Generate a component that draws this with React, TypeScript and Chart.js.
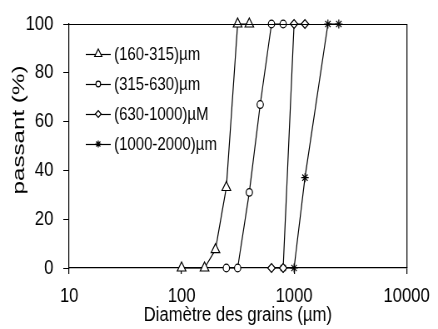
import React, { useEffect, useRef } from 'react';
import { Chart, registerables } from 'chart.js';
import { drawPoint } from 'chart.js/helpers';

Chart.register(...registerables);

// The reference is horizontally compressed; draw on a wider canvas and squeeze it with CSS.
const K = 1.2;
const W = 438;
const H = 329;
const LW = Math.round(W * K);

const FONT = "'Liberation Sans', Arial, sans-serif";

const seriesLabels = ['(160-315)µm', '(315-630)µm', '(630-1000)µM', '(1000-2000)µm'];
const s1X = [100, 160, 200, 250, 315, 400];
const s1Y = [0, 0, 7.5, 33, 100, 100];
const s2X = [250, 315, 400, 500, 630, 800];
const s2Y = [0, 0, 31, 67, 100, 100];
const s3X = [630, 800, 1000, 1250];
const s3Y = [0, 0, 100, 100];
const s4X = [800, 1000, 1250, 2000, 2500];
const s4Y = [0, 0, 37, 100, 100];
const xTicks = [10, 100, 1000, 10000];
const yTicks = [0, 20, 40, 60, 80, 100];
const xTitle = 'Diamètre des grains (µm)';
const yTitle = 'passant (%)';

const pointStyles = ['triangle', 'circle', 'rectRot', 'star'];
const pointRadii = [6, 3.8, 4.5, 4.5];

const allX = [s1X, s2X, s3X, s4X];
const allY = [s1Y, s2Y, s3Y, s4Y];

const framePlugin = {
  id: 'frame',
  afterDraw(chart: any) {
    const { ctx, chartArea } = chart;
    const { left, right, top, bottom } = chartArea;
    ctx.save();
    ctx.strokeStyle = '#000';
    ctx.lineWidth = 1.2;
    ctx.beginPath();
    ctx.moveTo(left, top + 0.5);
    ctx.lineTo(right + 0.5, top + 0.5);
    ctx.lineTo(right + 0.5, bottom);
    ctx.stroke();

    // y title
    ctx.fillStyle = '#000';
    ctx.font = `21px ${FONT}`;
    ctx.textAlign = 'center';
    ctx.textBaseline = 'alphabetic';
    ctx.translate(left - 54, (top + bottom) / 2 - 16);
    ctx.rotate(-Math.PI / 2);
    ctx.scale(1.15, 1);
    ctx.fillText(yTitle, 0, 0);
    ctx.restore();

    // legend
    ctx.save();
    const x0 = left + 20;
    const x1 = left + 50;
    ctx.font = `18px ${FONT}`;
    ctx.textAlign = 'left';
    ctx.textBaseline = 'middle';
    seriesLabels.forEach((label, i) => {
      const y = top + 30 + i * 30;
      ctx.strokeStyle = '#000';
      ctx.lineWidth = 1.2;
      ctx.beginPath();
      ctx.moveTo(x0, y + 0.5);
      ctx.lineTo(x1, y + 0.5);
      ctx.stroke();
      ctx.fillStyle = pointStyles[i] === 'star' ? '#000' : '#fff';
      ctx.strokeStyle = '#000';
      ctx.lineWidth = 1.2;
      drawPoint(ctx, { pointStyle: pointStyles[i], radius: pointRadii[i] - 1, rotation: 0, borderWidth: 1.2 } as any, (x0 + x1) / 2, y);
      ctx.fillStyle = '#000';
      ctx.fillText(label, x1 + 4, y + 1);
    });
    ctx.restore();
  },
};

export default function App() {
  const ref = useRef<HTMLCanvasElement>(null);

  useEffect(() => {
    if (!ref.current) return;
    const datasets = seriesLabels.map((label, i) => ({
      label,
      data: allX[i].map((x, j) => ({ x, y: allY[i][j] })),
      borderColor: '#000',
      borderWidth: 1.2,
      backgroundColor: pointStyles[i] === 'star' ? '#000' : '#fff',
      pointStyle: pointStyles[i],
      pointRadius: pointRadii[i],
      pointBorderColor: '#000',
      pointBackgroundColor: pointStyles[i] === 'star' ? '#000' : '#fff',
      pointBorderWidth: 1.2,
      tension: 0,
      fill: false,
      clip: false,
    }));

    const chart = new Chart(ref.current, {
      type: 'line',
      data: { datasets } as any,
      options: {
        animation: false,
        responsive: false,
        devicePixelRatio: 1,
        layout: { padding: { top: 20, right: LW - Math.round(411 * K), left: 0, bottom: 0 } },
        plugins: { legend: { display: false }, tooltip: { enabled: false } },
        scales: {
          x: {
            type: 'logarithmic',
            min: 10,
            max: 10000,
            position: 'bottom',
            afterBuildTicks: (axis: any) => {
              axis.ticks = xTicks.map((v) => ({ value: v }));
            },
            afterFit: (axis: any) => {
              axis.height = 61;
            },
            ticks: {
              autoSkip: false,
              maxRotation: 0,
              color: '#000',
              padding: 10,
              font: { family: FONT, size: 20 },
              callback: (v: any) => String(v),
            },
            grid: { display: true, drawOnChartArea: false, drawTicks: true, tickLength: 6, color: '#000', lineWidth: 1.2 },
            border: { display: true, color: '#000', width: 1.2 },
            title: {
              display: true,
              text: xTitle,
              color: '#000',
              font: { family: FONT, size: 20 },
              padding: { top: 0, bottom: 2 },
            },
          },
          y: {
            type: 'linear',
            min: 0,
            max: 100,
            afterBuildTicks: (axis: any) => {
              axis.ticks = yTicks.map((v) => ({ value: v }));
            },
            afterFit: (axis: any) => {
              axis.width = Math.round(69 * K);
            },
            ticks: {
              color: '#000',
              padding: 12,
              font: { family: FONT, size: 20 },
              callback: (v: any) => String(v),
            },
            grid: { display: true, drawOnChartArea: false, drawTicks: true, tickLength: 7, color: '#000', lineWidth: 1 },
            border: { display: true, color: '#000', width: 1.2 },
          },
        },
      },
      plugins: [framePlugin],
    } as any);
    return () => chart.destroy();
  }, []);

  return (
    <div style={{ position: 'fixed', left: 0, top: 0, width: W, height: H, background: '#fff' }}>
      <canvas ref={ref} width={LW} height={H} style={{ width: W, height: H, display: 'block' }} />
    </div>
  );
}
